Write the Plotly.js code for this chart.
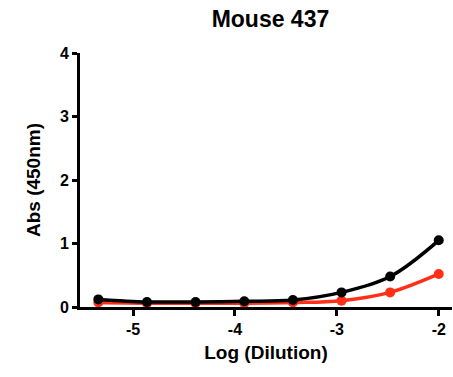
<!DOCTYPE html>
<html>
<head>
<meta charset="utf-8">
<script src="https://cdn.plot.ly/plotly-3.0.1.min.js"></script>
<style>html,body{margin:0;padding:0;background:#fff;}#chart{width:453px;height:377px;}</style>
</head>
<body>
<div id="chart"></div>
<script>
var logDilution = [-5.340, -4.863, -4.386, -3.908, -3.431, -2.954, -2.477, -2.0];
var seriesBlack = [0.12, 0.08, 0.08, 0.09, 0.11, 0.23, 0.48, 1.05];
var seriesRed   = [0.07, 0.06, 0.06, 0.06, 0.07, 0.10, 0.23, 0.52];
var xTicks = [-5, -4, -3, -2];
var yTicks = [0, 1, 2, 3, 4];

var fontFam = "Liberation Sans, Arial, sans-serif";
var traces = [
  {x: logDilution, y: seriesRed, mode: 'lines+markers', type: 'scatter',
   line: {color: '#ff3018', width: 3.5, shape: 'spline', smoothing: 1},
   marker: {color: '#ff3018', size: 10}, cliponaxis: false, showlegend: false},
  {x: logDilution, y: seriesBlack, mode: 'lines+markers', type: 'scatter',
   line: {color: '#000000', width: 3.5, shape: 'spline', smoothing: 1},
   marker: {color: '#000000', size: 10}, cliponaxis: false, showlegend: false}
];
var layout = {
  width: 453, height: 377,
  margin: {l: 80, r: 1, t: 53, b: 70},
  paper_bgcolor: '#fff', plot_bgcolor: '#fff',
  font: {family: fontFam, color: '#000'},
  title: {text: '<b>Mouse 437</b>', font: {size: 23, family: fontFam, color: '#000'}, x: 0.597, xanchor: 'center', y: 0.95, yanchor: 'middle'},
  xaxis: {
    range: [-5.52, -1.87], tickvals: xTicks, ticktext: xTicks.map(function(v){return '<b>'+v+'</b>';}),
    ticks: 'outside', ticklen: 6, tickwidth: 3, tickcolor: '#000',
    showline: true, linewidth: 3, linecolor: '#000', showgrid: false, zeroline: false,
    tickfont: {size: 16, family: fontFam},
    title: {text: '<b>Log (Dilution)</b>', font: {size: 19, family: fontFam}, standoff: 9}
  },
  yaxis: {
    range: [0, 4], tickvals: yTicks, ticktext: yTicks.map(function(v){return '<b>'+v+'</b>';}),
    ticks: 'outside', ticklen: 5, tickwidth: 3, tickcolor: '#000',
    showline: true, linewidth: 3, linecolor: '#000', showgrid: false, zeroline: false,
    tickfont: {size: 16, family: fontFam},
    title: {text: '<b>Abs (450nm)</b>', font: {size: 19, family: fontFam}, standoff: 15}
  }
};
Plotly.newPlot('chart', traces, layout, {displayModeBar: false, staticPlot: true});
</script>
</body>
</html>
